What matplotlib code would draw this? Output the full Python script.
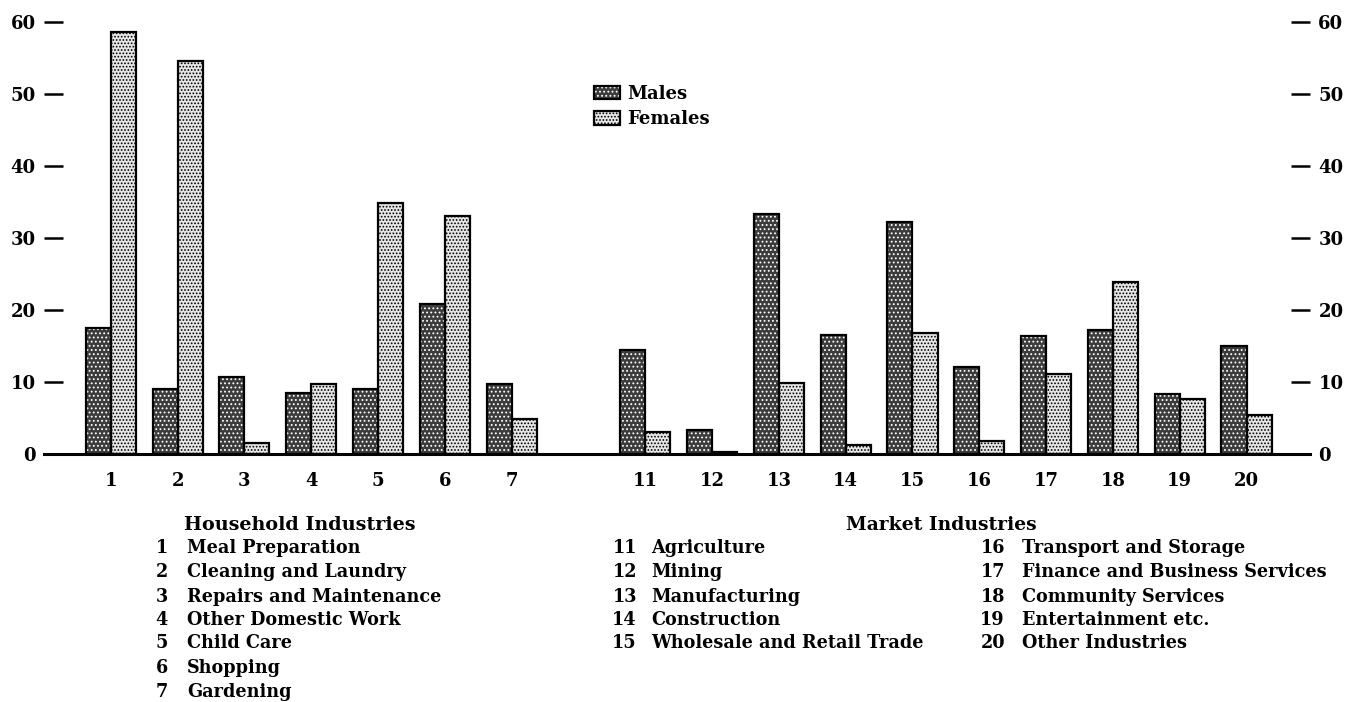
import matplotlib
matplotlib.use("Agg")
import matplotlib.pyplot as plt
from matplotlib.patches import Patch
import numpy as np

# industry codes shown under the bars
codes = ["1", "2", "3", "4", "5", "6", "7",
         "11", "12", "13", "14", "15", "16", "17", "18", "19", "20"]
males = [17.5, 9.0, 10.7, 8.5, 9.0, 20.8, 9.7,
         14.4, 3.3, 33.3, 16.5, 32.2, 12.1, 16.4, 17.2, 8.3, 15.0]
females = [58.6, 54.5, 1.5, 9.7, 34.9, 33.0, 4.8,
           3.0, 0.3, 9.9, 1.2, 16.8, 1.8, 11.1, 23.9, 7.6, 5.4]

household = ["Meal Preparation", "Cleaning and Laundry", "Repairs and Maintenance",
             "Other Domestic Work", "Child Care", "Shopping", "Gardening"]
market = ["Agriculture", "Mining", "Manufacturing", "Construction",
          "Wholesale and Retail Trade", "Transport and Storage",
          "Finance and Business Services", "Community Services",
          "Entertainment etc.", "Other Industries"]

plt.rcParams['font.family'] = 'DejaVu Serif'
plt.rcParams['font.weight'] = 'bold'
plt.rcParams['hatch.linewidth'] = 0.8

W, H = 1359, 702
fig = plt.figure(figsize=(W / 100, H / 100), dpi=100)
ax = fig.add_axes([44 / W, 1 - 454 / H, (1310 - 44) / W, (454 - 21.7) / H])

# household group at slots 1..7, market group after a gap at 9..18
x = np.array(list(range(1, 8)) + list(range(9, 19)), dtype=float)
w = 0.375

# males: dark stipple (white dots on black), females: light stipple
m_fill = dict(facecolor='#3c3c3c', edgecolor='white', hatch='....', linewidth=0)
f_fill = dict(facecolor='#e6e6e6', edgecolor='black', hatch='.....', linewidth=0)
frame = dict(fill=False, edgecolor='black', linewidth=1.6)

ax.bar(x - w / 2, males, w, zorder=3, **m_fill)
ax.bar(x - w / 2, males, w, zorder=3.5, **frame)
ax.bar(x + w / 2, females, w, zorder=3, **f_fill)
ax.bar(x + w / 2, females, w, zorder=3.5, **frame)

ax.set_xlim(0, 18.95)
ax.set_ylim(0, 60)
ax.set_xticks(x)
ax.set_xticklabels(codes, fontsize=13)
ax.tick_params(axis='x', length=0, pad=13)
ax.set_yticks(np.arange(0, 61, 10))
ax.tick_params(axis='y', direction='in', length=14, width=1.8, labelsize=13,
               left=True, right=True, labelleft=True, labelright=True, pad=6)
for s in ['left', 'right', 'top']:
    ax.spines[s].set_visible(False)
ax.spines['bottom'].set_linewidth(2.2)
ax.spines['bottom'].set_zorder(4)

h_m = (Patch(**m_fill), Patch(**frame))
h_f = (Patch(**f_fill), Patch(**frame))
ax.legend([h_m, h_f], ['Males', 'Females'], loc='upper left',
          bbox_to_anchor=(0.427, 0.875), frameon=False,
          fontsize=13, handlelength=1.45, handleheight=0.8,
          handletextpad=0.4, borderpad=0, labelspacing=0.4)

fs = 12.7
def ft(px, py, s, size=fs, **kw):
    fig.text(px / W, 1 - py / H, s, fontsize=size, va='center', **kw)

row_y = [548, 572, 597, 620, 643, 668, 692]

ft(300, 525, "Household Industries", size=13.8, ha='center')
for i, name in enumerate(household):
    ft(168, row_y[i], codes[i], ha='right')
    ft(187, row_y[i], name, ha='left')

ft(941, 525, "Market Industries", size=13.5, ha='center')
for i, name in enumerate(market):
    if i < 5:
        nx, tx, yy = 637, 651, row_y[i]
    else:
        nx, tx, yy = 1005, 1022, row_y[i - 5]
    ft(nx, yy, codes[7 + i], ha='right')
    ft(tx, yy, name, ha='left')

fig.savefig("out.png", dpi=100)
